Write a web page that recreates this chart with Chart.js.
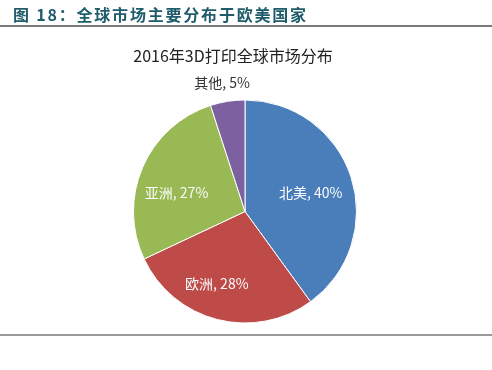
<!DOCTYPE html>
<html>
<head>
<meta charset="utf-8">
<script src="https://cdn.jsdelivr.net/npm/chart.js@4/dist/chart.umd.min.js"></script>
<style>
  html,body{margin:0;padding:0;background:#fff;}
  #wrap{position:relative;width:492px;height:370px;overflow:hidden;background:#fff;}
  #c{position:absolute;left:0;top:0;}
  #hdr{position:absolute;left:13px;top:2px;font-family:"Noto Sans CJK SC",sans-serif;font-weight:bold;font-size:16px;letter-spacing:1.8px;color:#1f5c6b;white-space:nowrap;line-height:24px;}
  #l1{position:absolute;left:0;top:25px;width:492px;height:1.5px;background:#7a7a7a;}
  #l2{position:absolute;left:0;top:334px;width:492px;height:2px;background:#9a9a9a;}
  #ttl{position:absolute;left:133px;width:200px;top:43px;text-align:center;font-family:"Noto Sans CJK SC",sans-serif;font-size:16px;color:#222;white-space:nowrap;line-height:24px;}
</style>
</head>
<body>
<div id="wrap">
  <canvas id="c" width="492" height="370"></canvas>
  <div id="hdr">图 18：全球市场主要分布于欧美国家</div>
  <div id="l1"></div>
  <div id="ttl">2016年3D打印全球市场分布</div>
  <div id="l2"></div>
</div>
<script>
const categories = ["北美", "欧洲", "亚洲", "其他"];
const shares = [40, 28, 27, 5];
const sliceColors = ["#4a7ebb", "#be4b48", "#98b954", "#7d60a0"];

const labelPlugin = {
  id: 'sliceLabels',
  afterDatasetsDraw(chart) {
    const ctx = chart.ctx;
    const meta = chart.getDatasetMeta(0);
    // small placement nudges (styling only), mimicking the original label layout
    const nudge = [[0, 3], [-11, 5], [-5, 9], [-3, -3]];
    ctx.save();
    ctx.font = '14px "Noto Sans CJK SC", sans-serif';
    ctx.textAlign = 'center';
    ctx.textBaseline = 'middle';
    meta.data.forEach((arc, i) => {
      const p = arc.getProps(['x','y','startAngle','endAngle','outerRadius'], true);
      const mid = (p.startAngle + p.endAngle) / 2;
      const txt = categories[i] + ', ' + shares[i] + '%';
      let d, color;
      if (shares[i] < 10) { d = p.outerRadius + 16; color = '#333'; }
      else { d = p.outerRadius * 0.62; color = '#fbfbfb'; }
      const x = p.x + Math.cos(mid) * d + nudge[i][0];
      const y = p.y + Math.sin(mid) * d + nudge[i][1];
      ctx.fillStyle = color;
      ctx.fillText(txt, x, y);
    });
    ctx.restore();
  }
};

new Chart(document.getElementById('c'), {
  type: 'pie',
  data: {
    labels: categories,
    datasets: [{
      data: shares,
      backgroundColor: sliceColors,
      borderColor: '#ffffff',
      borderWidth: 1
    }]
  },
  options: {
    responsive: false,
    animation: false,
    layout: { padding: { left: 133, right: 135, top: 99, bottom: 46 } },
    plugins: {
      legend: { display: false },
      title: { display: false },
      tooltip: { enabled: false }
    }
  },
  plugins: [labelPlugin]
});
</script>
</body>
</html>
